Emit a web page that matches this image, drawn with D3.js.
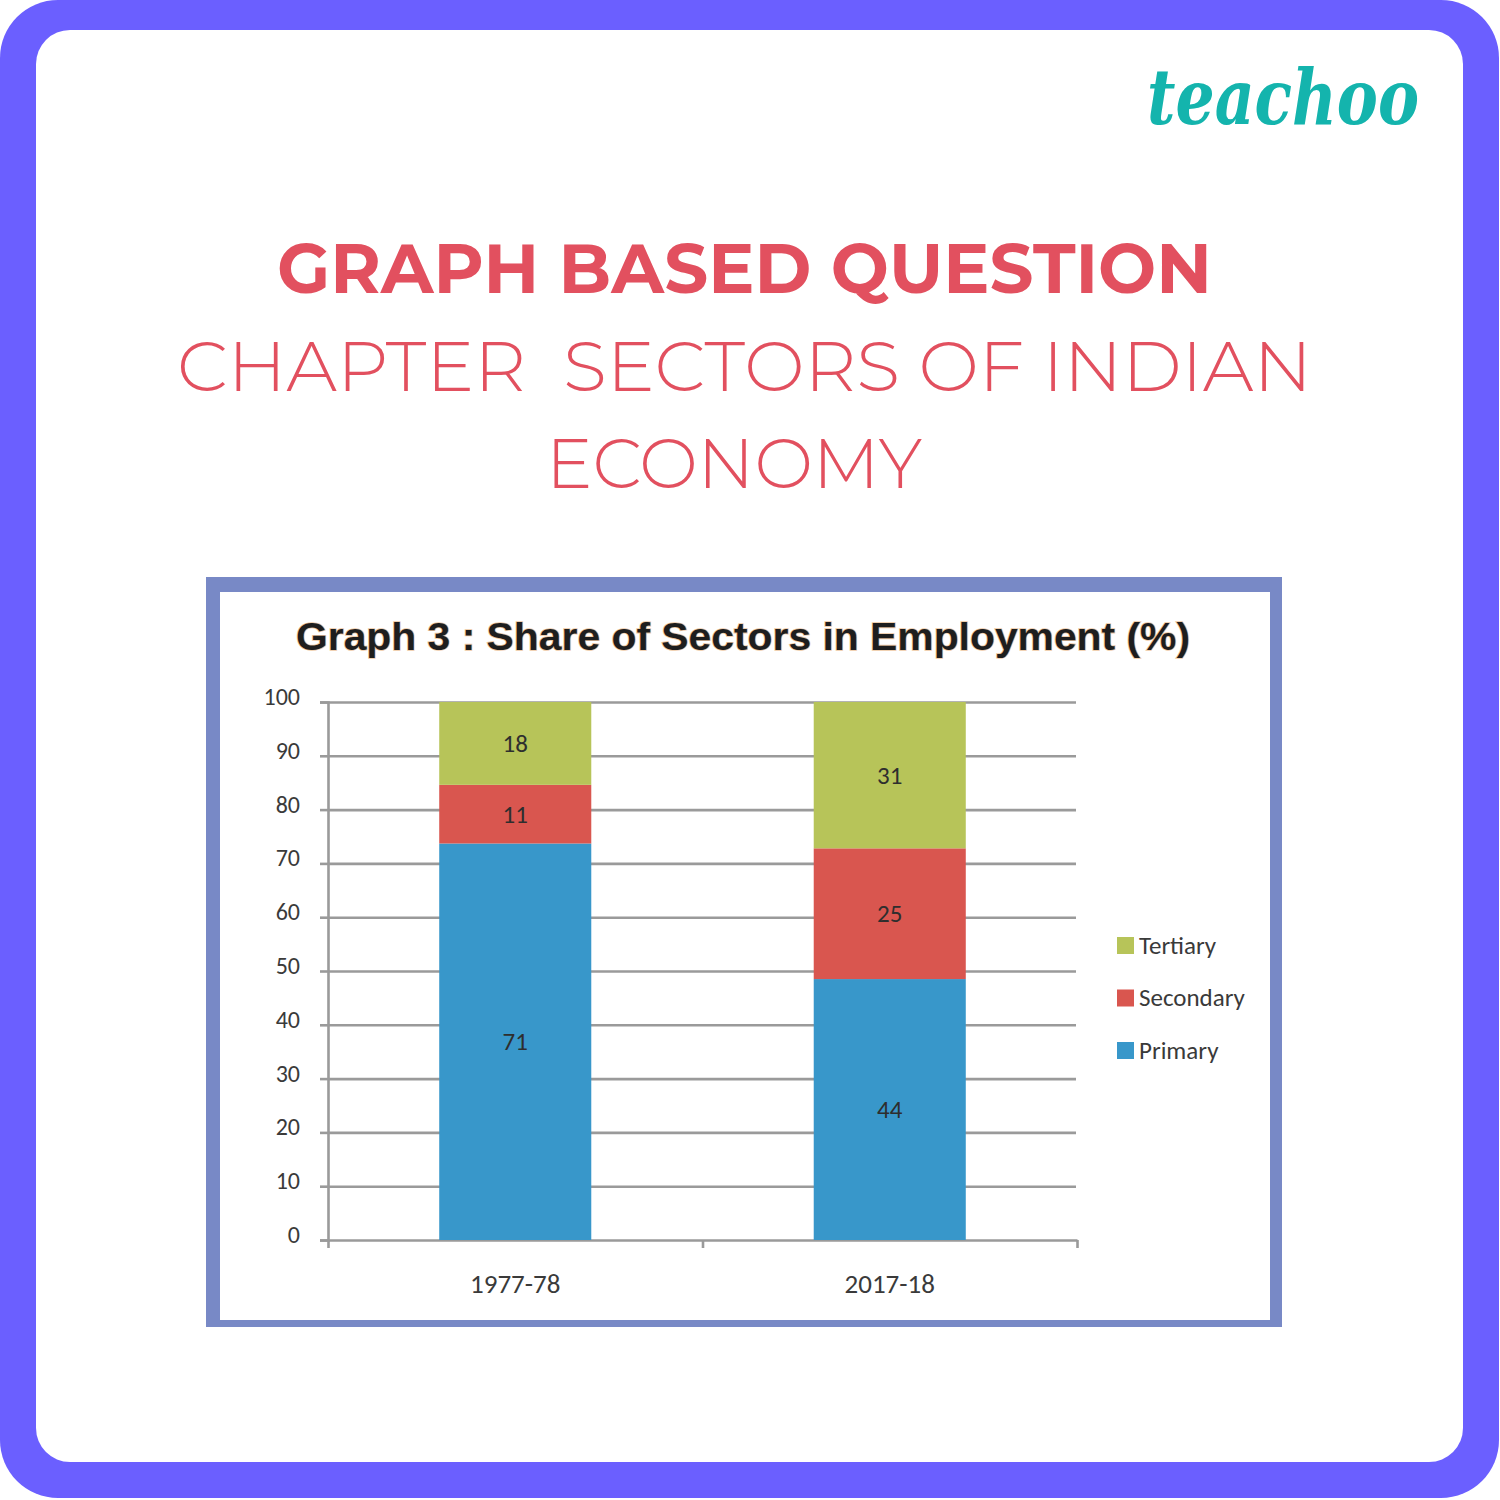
<!DOCTYPE html>
<html>
<head>
<meta charset="utf-8">
<script src="https://cdn.jsdelivr.net/npm/d3@7"></script>
<style>
  html, body { margin: 0; padding: 0; background: #ffffff; }
  svg { display: block; }
</style>
</head>
<body>
<div id="chart"></div>
<script>
// ---- data ----
const categories = ["1977-78", "2017-18"];
const sectors = ["Primary", "Secondary", "Tertiary"];
// printed data labels
const primaryLabels = [71, 44];
const secondaryLabels = [11, 25];
const tertiaryLabels = [18, 31];
// segment heights as drawn in the picture (%)
const primaryHeights = [73.7, 48.5];
const secondaryHeights = [10.9, 24.3];
const tertiaryHeights = [15.4, 27.2];
const yTicks = [0, 10, 20, 30, 40, 50, 60, 70, 80, 90, 100];
const legendOrder = ["Tertiary", "Secondary", "Primary"];

const colors = { Primary: "#3897ca", Secondary: "#d9564f", Tertiary: "#b7c459" };
const heightsBy = { Primary: primaryHeights, Secondary: secondaryHeights, Tertiary: tertiaryHeights };
const labelsBy = { Primary: primaryLabels, Secondary: secondaryLabels, Tertiary: tertiaryLabels };

const W = 1500, H = 1500;
const svg = d3.select("#chart").append("svg").attr("width", W).attr("height", H);

// ---- page frame ----
svg.append("rect").attr("x", 0).attr("y", 0).attr("width", 1499).attr("height", 1498)
  .attr("rx", 58).attr("fill", "#6b5fff");
svg.append("rect").attr("x", 36).attr("y", 30).attr("width", 1427).attr("height", 1432)
  .attr("rx", 34).attr("fill", "#ffffff");

// ---- logo ----
svg.append("text").attr("x", 1147).attr("y", 124)
  .attr("textLength", 272).attr("lengthAdjust", "spacingAndGlyphs")
  .style("font-family", "'DejaVu Serif', serif").style("font-weight", "bold").style("font-style", "italic")
  .style("font-size", "76px").attr("fill", "#14b4ad").text("teachoo");

// ---- headings ----
const red = "#e2505f";
svg.append("text").attr("x", 277).attr("y", 293)
  .attr("textLength", 935).attr("lengthAdjust", "spacingAndGlyphs")
  .style("font-family", "Montserrat, 'Open Sans', sans-serif").style("font-weight", "bold")
  .style("font-size", "70px").attr("fill", red).text("GRAPH BASED QUESTION");
svg.append("text").attr("x", 177).attr("y", 391)
  .attr("textLength", 1135).attr("lengthAdjust", "spacingAndGlyphs")
  .style("font-family", "Montserrat, Lato, 'Open Sans', sans-serif").style("font-weight", 300)
  .style("font-size", "70px").attr("fill", red)
  .text("CHAPTER\u00a0\u00a0SECTORS OF INDIAN");
svg.append("text").attr("x", 546).attr("y", 488)
  .attr("textLength", 376).attr("lengthAdjust", "spacingAndGlyphs")
  .style("font-family", "Montserrat, Lato, 'Open Sans', sans-serif").style("font-weight", 300)
  .style("font-size", "70px").attr("fill", red).text("ECONOMY");

// ---- chart frame ----
svg.append("rect").attr("x", 206).attr("y", 577).attr("width", 1076).attr("height", 750).attr("fill", "#7889c6");
svg.append("rect").attr("x", 220).attr("y", 592).attr("width", 1050).attr("height", 728).attr("fill", "#ffffff");

// ---- chart title ----
svg.append("text").attr("x", 296).attr("y", 650)
  .attr("textLength", 894).attr("lengthAdjust", "spacingAndGlyphs")
  .style("font-family", "'Liberation Sans', Arial, sans-serif").style("font-weight", "bold")
  .style("font-size", "38px").attr("fill", "#1e1e1e")
  .attr("stroke", "rgba(222,150,80,0.55)").attr("stroke-width", 1.6).attr("paint-order", "stroke")
  .text("Graph 3 : Share of Sectors in Employment (%)");

// ---- scales ----
const x0 = 328, x1 = 1077, yBase = 1240, yTop = 702;
const x = d3.scaleBand().domain(categories).range([x0, x1]).paddingInner(0.594).paddingOuter(0.297);
const y = d3.scaleLinear().domain([0, 100]).range([yBase, yTop]);
const xEdge = d3.scaleLinear().domain([0, categories.length]).range([x0, x1]);

const smallFont = "Carlito, 'Liberation Sans Narrow', 'DejaVu Sans Condensed', sans-serif";
const gridColor = "#9a9a9a";

// gridlines
svg.append("g").attr("transform", `translate(${x0},0)`)
  .call(d3.axisRight(y).tickValues(yTicks.filter(t => t > 0)).tickSize(x1 - x0 - 1).tickFormat(""))
  .call(g => g.select(".domain").remove())
  .call(g => g.selectAll("line").attr("stroke", gridColor).attr("stroke-width", 2.6));

// y axis
svg.append("g").attr("transform", `translate(${x0},0)`)
  .call(d3.axisLeft(y).tickValues(yTicks).tickSize(8).tickPadding(20))
  .call(g => g.select(".domain").attr("stroke", gridColor).attr("stroke-width", 2.6))
  .call(g => g.selectAll("line").attr("stroke", gridColor).attr("stroke-width", 2.6))
  .call(g => g.selectAll("text").attr("fill", "#3a3a3a").attr("dy", "0.1em")
    .style("font-family", smallFont).style("font-size", "24px"));

// x axis line + edge ticks
svg.append("g").attr("transform", `translate(0,${yBase})`)
  .call(d3.axisBottom(xEdge).tickValues(d3.range(categories.length + 1)).tickSize(8).tickFormat("").tickSizeOuter(0))
  .call(g => g.select(".domain").attr("stroke", gridColor).attr("stroke-width", 2.6))
  .call(g => g.selectAll("line").attr("stroke", gridColor).attr("stroke-width", 2.6));

// x category labels
svg.append("g").attr("transform", `translate(0,${yBase})`)
  .call(d3.axisBottom(x).tickSize(0).tickPadding(34))
  .call(g => g.select(".domain").remove())
  .call(g => g.selectAll("text").attr("fill", "#3a3a3a")
    .style("font-family", smallFont).style("font-size", "27px"));

// ---- stacked bars ----
const rows = categories.map((c, i) => {
  const r = { category: c };
  sectors.forEach(s => { r[s] = heightsBy[s][i]; });
  return r;
});
const stack = d3.stack().keys(sectors)(rows);

const layers = svg.append("g").selectAll("g").data(stack).join("g")
  .attr("fill", d => colors[d.key]);
layers.selectAll("rect").data(d => d.map(p => ({ p, key: d.key }))).join("rect")
  .attr("x", d => x(d.p.data.category))
  .attr("width", x.bandwidth())
  .attr("y", d => y(d.p[1]))
  .attr("height", d => y(d.p[0]) - y(d.p[1]));

layers.selectAll("text").data((d) => d.map((p, i) => ({ p, key: d.key, i }))).join("text")
  .attr("x", d => x(d.p.data.category) + x.bandwidth() / 2)
  .attr("y", d => (y(d.p[0]) + y(d.p[1])) / 2)
  .attr("dy", "0.35em")
  .attr("text-anchor", "middle")
  .attr("fill", "#2e2e2e")
  .style("font-family", smallFont).style("font-size", "25px")
  .text(d => labelsBy[d.key][d.i]);

// ---- legend ----
const legend = svg.append("g").selectAll("g").data(legendOrder).join("g")
  .attr("transform", (d, i) => `translate(1117,${945 + i * 52.5})`);
legend.append("rect").attr("x", 0).attr("y", -8).attr("width", 17).attr("height", 17)
  .attr("fill", d => colors[d]);
legend.append("text").attr("x", 22).attr("y", 0).attr("dy", "0.35em")
  .attr("fill", "#3a3a3a").style("font-family", smallFont).style("font-size", "25px")
  .text(d => d);
</script>
</body>
</html>
